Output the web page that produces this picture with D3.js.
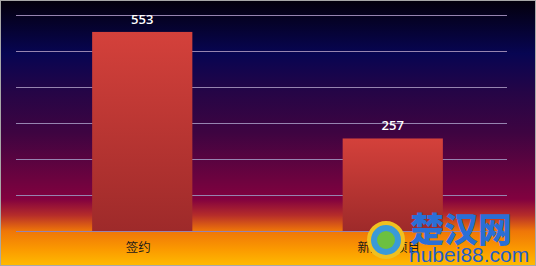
<!DOCTYPE html>
<html>
<head>
<meta charset="utf-8">
<script src="https://cdnjs.cloudflare.com/ajax/libs/d3/7.8.5/d3.min.js"></script>
<style>
body { margin: 0; background: #fff; }
svg { display: block; }
</style>
</head>
<body>
<svg width="536" height="266"></svg>
<script>
var categories = ["签约", "新开工项目"];
var values = [553, 257];
var yTicks = [0, 100, 200, 300, 400, 500, 600];

var svg = d3.select("svg");
var W = 536, H = 266;
var plotLeft = 16, plotRight = 507, plotTop = 15, plotBottom = 231;

var defs = svg.append("defs");
var bg = defs.append("linearGradient").attr("id", "bg").attr("x1", 0).attr("y1", 0).attr("x2", 0).attr("y2", 1);
[[0, "#04000c"], [0.2, "#070552"], [0.35, "#260546"], [0.5, "#3e0441"], [0.68, "#6e033f"],
 [0.75, "#82013f"], [0.81, "#b52c2a"], [0.87, "#ef7608"], [0.94, "#fb9a00"], [1, "#ffba00"]]
  .forEach(function(s) { bg.append("stop").attr("offset", s[0]).attr("stop-color", s[1]); });

var barGrad = defs.append("linearGradient").attr("id", "bar").attr("x1", 0).attr("y1", 0).attr("x2", 0).attr("y2", 1);
barGrad.append("stop").attr("offset", 0).attr("stop-color", "#d4413b");
barGrad.append("stop").attr("offset", 1).attr("stop-color", "#9e2a2a");

svg.append("rect").attr("x", 0.5).attr("y", 0.5).attr("width", W - 1).attr("height", H - 1)
  .attr("fill", "url(#bg)").attr("stroke", "#a8a8a8").attr("stroke-width", 1);

var yScale = d3.scaleLinear().domain([0, 600]).range([plotBottom, plotTop]);
var xScale = d3.scaleBand().domain(categories).range([22, 513]).paddingInner(0.6).paddingOuter(0.28);

var grid = svg.append("g")
  .attr("transform", "translate(" + plotLeft + ",0)")
  .call(d3.axisLeft(yScale).tickValues(yTicks).tickSize(-(plotRight - plotLeft)).tickFormat(""));
grid.select(".domain").remove();
grid.selectAll("line").attr("stroke", "#9684b0").attr("stroke-width", 1);

svg.selectAll(".bar")
  .data(values)
  .enter()
  .append("rect")
  .attr("class", "bar")
  .attr("x", (d, i) => xScale(categories[i]))
  .attr("y", d => yScale(d))
  .attr("width", xScale.bandwidth())
  .attr("height", d => yScale(0) - yScale(d))
  .attr("fill", "url(#bar)");

svg.selectAll(".val")
  .data(values)
  .enter()
  .append("text")
  .attr("class", "val")
  .attr("x", (d, i) => xScale(categories[i]) + xScale.bandwidth() / 2)
  .attr("y", d => yScale(d) - 8)
  .attr("text-anchor", "middle")
  .attr("fill", "#ffffff")
  .style("font-family", "'Open Sans', 'Noto Sans', sans-serif")
  .style("font-weight", "600")
  .style("font-size", "13px")
  .text(d => d);

var xAxis = svg.append("g")
  .attr("transform", "translate(-4," + plotBottom + ")")
  .call(d3.axisBottom(xScale).tickSize(0).tickPadding(12));
xAxis.select(".domain").remove();
xAxis.selectAll("text")
  .attr("fill", "#1a1a1a")
  .style("font-family", "'Noto Sans CJK SC', sans-serif")
  .style("font-size", "12.5px");

// watermark
var wm = svg.append("g");
wm.append("circle").attr("cx", 386).attr("cy", 240).attr("r", 17)
  .attr("fill", "#3a9ad8").attr("stroke", "#f0c020").attr("stroke-width", 4);
wm.append("circle").attr("cx", 386).attr("cy", 240).attr("r", 9).attr("fill", "#6cc040");
wm.append("text").attr("x", 410).attr("y", 242).attr("fill", "#2a6fd6")
  .style("font-family", "'Noto Sans CJK SC', sans-serif").style("font-weight", "900")
  .style("font-size", "34px").text("楚汉网");
wm.append("text").attr("x", 409).attr("y", 262).attr("fill", "#1f5fc8")
  .style("font-family", "'Liberation Sans', Arial, sans-serif")
  .style("font-size", "21px").text("hubei88.com");
</script>
</body>
</html>
